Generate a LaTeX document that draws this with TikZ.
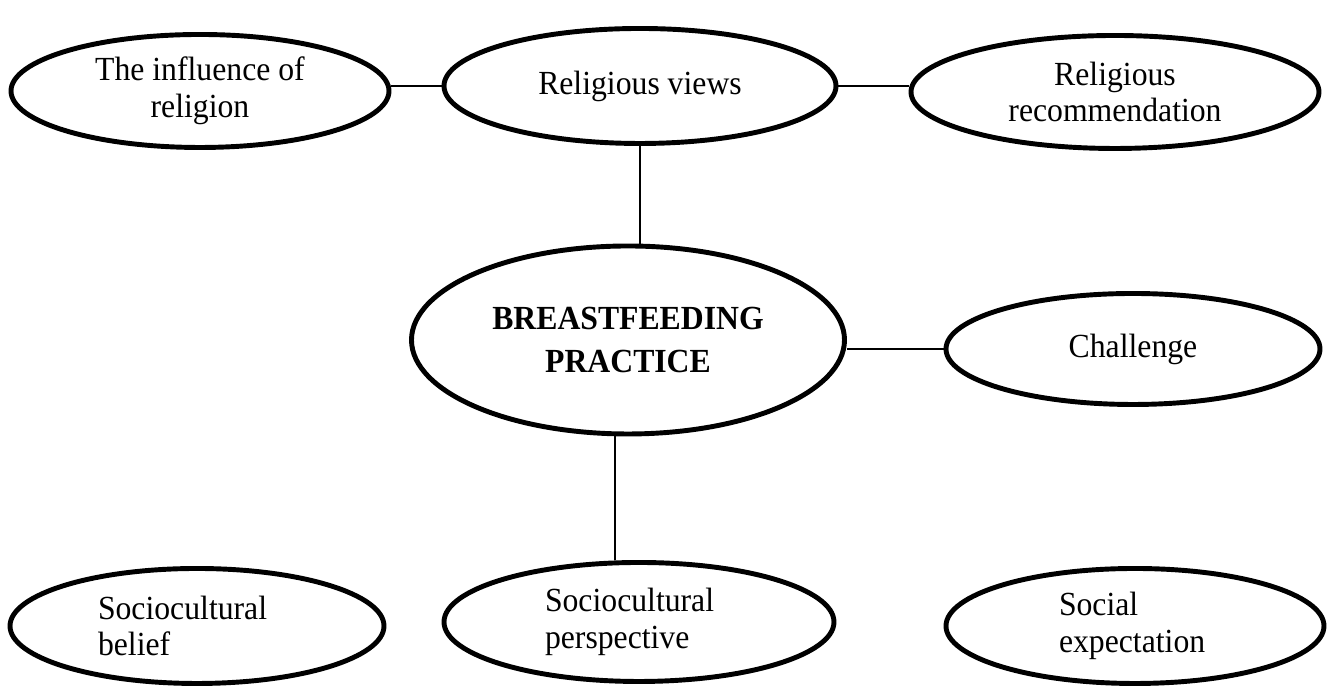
\documentclass[tikz,border=0pt]{standalone}
\usepackage{fontspec}
\setmainfont[FakeStretch=0.94]{Liberation Serif}
\usetikzlibrary{shapes.geometric}

\begin{document}
\begin{tikzpicture}[
    bubble/.style={ellipse, draw, line width=1.4pt, inner sep=0pt,
        align=center, font=\fontsize{9.6}{10.4}\selectfont},
    link/.style={line width=0.6pt}]
\useasboundingbox (0,0) rectangle (13.3,6.88);

% === Top row: religion ===
\node[bubble, minimum width=3.78cm, minimum height=1.13cm] (influence) at (2.00,5.97) {The influence of\\religion};
\node[bubble, minimum width=3.92cm, minimum height=1.15cm] (views) at (6.40,6.02) {Religious views};
\node[bubble, minimum width=4.08cm, minimum height=1.13cm] (recommend) at (11.15,5.96) {Religious\\recommendation};

% === Middle: core practice ===
\node[bubble, minimum width=4.33cm, minimum height=1.88cm, font=\fontsize{9.6}{12}\selectfont\bfseries] (practice) at (6.28,3.48) {BREASTFEEDING\\PRACTICE};
\node[bubble, minimum width=3.74cm, minimum height=1.11cm] (challenge) at (11.33,3.39) {Challenge};

% === Bottom row: sociocultural ===
\node[bubble, align=left, text width=1.98cm, minimum width=3.74cm, minimum height=1.15cm] (belief) at (1.97,0.62) {Sociocultural\\belief};
\node[bubble, align=left, text width=1.88cm, minimum width=3.90cm, minimum height=1.19cm] (perspective) at (6.39,0.66) {Sociocultural\\perspective};
\node[bubble, align=left, text width=1.52cm, minimum width=3.78cm, minimum height=1.15cm] (expectation) at (11.35,0.62) {Social\\expectation};

% links
\draw[link] (views.west) -- (views.west -| influence.east);
\draw[link] (views.east) -- (views.east -| recommend.west);
\draw[link] (views.south) -- (views.south |- practice.north);
\draw[link] (challenge.west) -- (challenge.west -| practice.east);
\draw[link] ([xshift=-0.13cm]practice.south) -- ([xshift=-0.13cm]practice.south |- perspective.north);
\end{tikzpicture}
\end{document}
